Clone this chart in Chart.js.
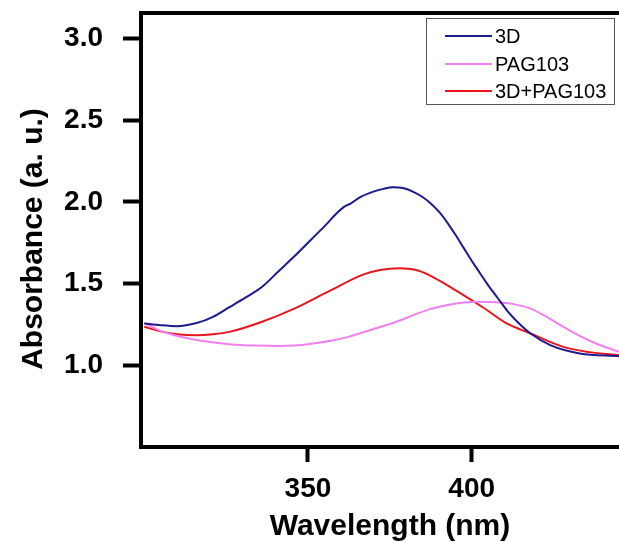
<!DOCTYPE html>
<html>
<head>
<meta charset="utf-8">
<script src="https://cdn.jsdelivr.net/npm/chart.js"></script>
<style>
  html, body { margin: 0; padding: 0; background: #fff; }
  canvas { display: block; }
</style>
</head>
<body>
<canvas id="uvvis" width="619" height="542"></canvas>
<script>
// wavelength (nm) / absorbance (a.u.)
var wl3D  = [300, 305, 310, 316, 321, 326, 331, 336, 341, 346, 351, 355, 359, 361, 363, 366, 370, 373, 376, 379, 382, 385, 387.5, 390, 392.5, 395, 397.5, 400, 402.5, 405, 408, 411, 414, 418, 424, 433, 445];
var abs3D = [1.256, 1.245, 1.239, 1.258, 1.296, 1.355, 1.415, 1.48, 1.575, 1.67, 1.77, 1.85, 1.935, 1.97, 1.99, 2.03, 2.063, 2.08, 2.09, 2.085, 2.063, 2.03, 1.99, 1.94, 1.875, 1.8, 1.72, 1.64, 1.565, 1.49, 1.41, 1.33, 1.265, 1.194, 1.123, 1.072, 1.055];

var wlPAG  = [300, 305, 311, 318, 326, 334, 341, 346, 351.5, 357, 362, 370, 377, 382, 387, 392, 397, 402, 407.5, 412.7, 417.8, 422.9, 428, 433, 438, 445];
var absPAG = [1.26, 1.21, 1.174, 1.148, 1.129, 1.12, 1.117, 1.12, 1.133, 1.15, 1.172, 1.222, 1.266, 1.305, 1.342, 1.366, 1.382, 1.388, 1.385, 1.374, 1.348, 1.296, 1.235, 1.18, 1.133, 1.082];

var wlMix  = [300, 305.6, 310, 315.8, 321, 326, 336, 346, 356.6, 366.8, 372, 378, 383, 387, 395, 403.6, 410.7, 418, 428, 436, 445];
var absMix = [1.235, 1.204, 1.19, 1.184, 1.19, 1.204, 1.266, 1.348, 1.455, 1.555, 1.583, 1.593, 1.583, 1.552, 1.46, 1.352, 1.256, 1.194, 1.112, 1.08, 1.061];

var seriesNames = ['3D', 'PAG103', '3D+PAG103'];
var seriesColors = ['#1c1a8e', '#f27ff0', '#e8161c'];
var xTicks = [350, 400];
var yTicks = [1.0, 1.5, 2.0, 2.5, 3.0];

function pts(xs, ys) {
  return xs.map(function (x, i) { return { x: x, y: ys[i] }; });
}

var boldFont = { family: 'Liberation Sans, Arial, sans-serif', size: 28, weight: 'bold' };

// frame top line, legend box and axis titles
var extras = {
  id: 'extras',
  afterDraw: function (chart) {
    var c = chart.ctx, a = chart.chartArea;
    c.save();
    c.strokeStyle = '#000';
    c.lineWidth = 4;
    c.beginPath();
    c.moveTo(a.left - 2, a.top);
    c.lineTo(a.right, a.top);
    c.stroke();

    // legend
    c.lineWidth = 1;
    c.strokeStyle = '#555';
    c.strokeRect(426.5, 18.5, 188, 86);
    c.font = '20px Liberation Sans, Arial, sans-serif';
    c.textBaseline = 'middle';
    c.textAlign = 'left';
    var rows = [36, 64, 91];
    chart.data.datasets.forEach(function (ds, i) {
      c.strokeStyle = ds.borderColor;
      c.lineWidth = 2;
      c.beginPath();
      c.moveTo(445, rows[i]);
      c.lineTo(492, rows[i]);
      c.stroke();
      c.fillStyle = '#000';
      c.fillText(ds.label, 495, rows[i] + 1);
    });

    // axis titles
    c.fillStyle = '#000';
    c.font = 'bold 30px Liberation Sans, Arial, sans-serif';
    c.textAlign = 'center';
    c.textBaseline = 'alphabetic';
    c.fillText('Wavelength (nm)', 390, 535);
    c.translate(42, 239);
    c.rotate(-Math.PI / 2);
    c.fillText('Absorbance (a. u.)', 0, 0);
    c.restore();
  }
};

new Chart(document.getElementById('uvvis').getContext('2d'), {
  type: 'line',
  data: {
    datasets: [
      { label: seriesNames[0], data: pts(wl3D, abs3D), borderColor: seriesColors[0] },
      { label: seriesNames[1], data: pts(wlPAG, absPAG), borderColor: seriesColors[1] },
      { label: seriesNames[2], data: pts(wlMix, absMix), borderColor: seriesColors[2] }
    ]
  },
  options: {
    responsive: false,
    animation: false,
    layout: { padding: { top: 13, right: 0, bottom: 0, left: 0 } },
    elements: {
      point: { radius: 0 },
      line: { borderWidth: 2, cubicInterpolationMode: 'monotone', fill: false }
    },
    plugins: { legend: { display: false }, tooltip: { enabled: false } },
    scales: {
      x: {
        type: 'linear',
        min: 299,
        max: 445,
        afterBuildTicks: function (s) { s.ticks = xTicks.map(function (v) { return { value: v }; }); },
        afterFit: function (s) { s.height = 95; s.paddingLeft = 0; s.paddingRight = 0; },
        grid: { drawOnChartArea: false, tickLength: 15, tickWidth: 4, tickColor: '#000' },
        border: { display: true, width: 4, color: '#000' },
        ticks: { font: boldFont, color: '#000', padding: 10, maxRotation: 0, autoSkip: false }
      },
      y: {
        type: 'linear',
        min: 0.499,
        max: 3.157,
        afterBuildTicks: function (s) { s.ticks = yTicks.map(function (v) { return { value: v }; }); },
        afterFit: function (s) { s.width = 141; s.paddingTop = 0; s.paddingBottom = 0; },
        grid: { drawOnChartArea: false, tickLength: 18, tickWidth: 4, tickColor: '#000' },
        border: { display: true, width: 4, color: '#000' },
        ticks: {
          font: boldFont, color: '#000', padding: 20, autoSkip: false,
          callback: function (v) { return v.toFixed(1); }
        }
      }
    }
  },
  plugins: [extras]
});
</script>
</body>
</html>
